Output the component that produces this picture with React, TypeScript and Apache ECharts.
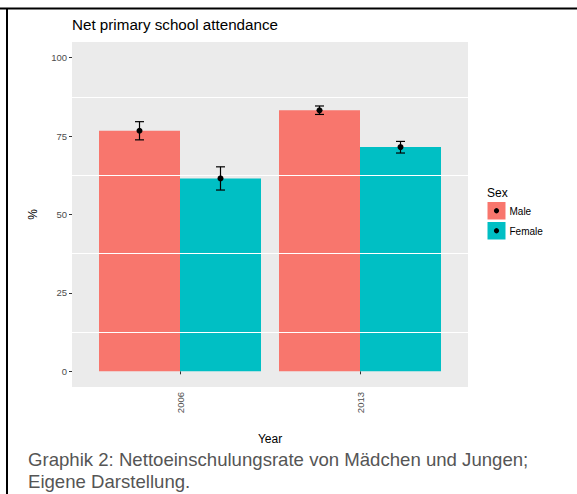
import React, { useEffect, useRef } from "react";
import * as echarts from "echarts";

// Net primary school attendance by year and sex (percent), with interval bounds
const YEARS = ["2006", "2013"];
const SEX = ["Male", "Female"];
const SEX_COLORS = ["#F8766D", "#00BFC4"];
const MALE = [76.7, 83.2];
const FEMALE = [61.5, 71.5];
const MALE_LOW = [73.8, 81.9];
const MALE_HIGH = [79.6, 84.6];
const FEMALE_LOW = [57.8, 69.6];
const FEMALE_HIGH = [65.2, 73.3];
const Y_TICKS = [0, 25, 50, 75, 100];
const Y_MINOR = [12.5, 37.5, 62.5, 87.5];
const TITLE = "Net primary school attendance";
const CAPTION = [
  "Graphik 2: Nettoeinschulungsrate von Mädchen und Jungen;",
  "Eigene Darstellung.",
];

const FONT = '"Liberation Sans", Arial, Helvetica, sans-serif';
const DODGE = 0.225;

export default function App() {
  const ref = useRef<HTMLDivElement>(null);

  useEffect(() => {
    document.body.style.margin = "0";
    if (!ref.current) return;
    const chart = echarts.init(ref.current, undefined, { renderer: "svg" });

    const xPos = YEARS.map((_, i) => i + 1);
    const barData = (vals: number[]) => vals.map((v, i) => [xPos[i], v]);

    const errData: number[][] = [];
    const groups = [
      { mean: MALE, low: MALE_LOW, high: MALE_HIGH, off: -DODGE },
      { mean: FEMALE, low: FEMALE_LOW, high: FEMALE_HIGH, off: DODGE },
    ];
    groups.forEach((g) => {
      g.mean.forEach((m, i) => {
        errData.push([xPos[i] + g.off, m, g.low[i], g.high[i]]);
      });
    });

    const legendItems: any[] = [
      {
        type: "text",
        x: 487,
        y: 193,
        style: {
          text: "Sex",
          fontSize: 12,
          fontFamily: FONT,
          fill: "#000",
          verticalAlign: "middle",
        },
      },
    ];
    SEX.forEach((name, k) => {
      const top = 202 + k * 20;
      legendItems.push(
        {
          type: "rect",
          shape: { x: 487.5, y: top, width: 18, height: 17.5 },
          style: { fill: SEX_COLORS[k] },
        },
        {
          type: "circle",
          shape: { cx: 496.5, cy: top + 8.75, r: 2.6 },
          style: { fill: "#000" },
        },
        {
          type: "text",
          x: 509.5,
          y: top + 9,
          style: {
            text: name,
            fontSize: 10,
            fontFamily: FONT,
            fill: "#000",
            verticalAlign: "middle",
          },
        }
      );
    });

    const option: any = {
      animation: false,
      backgroundColor: "#fff",
      textStyle: { fontFamily: FONT },
      title: {
        text: TITLE,
        left: 72,
        top: 17,
        padding: 0,
        textStyle: {
          fontSize: 15.2,
          fontWeight: "normal",
          color: "#000",
          fontFamily: FONT,
        },
      },
      grid: {
        left: 72,
        top: 42,
        width: 396,
        height: 345,
        show: true,
        backgroundColor: "#EBEBEB",
        borderWidth: 0,
      },
      xAxis: {
        type: "value",
        min: 0.4,
        max: 2.6,
        name: "Year",
        nameLocation: "middle",
        nameGap: 46,
        nameTextStyle: { fontSize: 12, color: "#000", fontFamily: FONT },
        axisLine: { show: false },
        splitLine: { show: false },
        axisTick: {
          show: true,
          length: 3,
          customValues: xPos,
          lineStyle: { color: "#333", width: 1 },
        },
        axisLabel: {
          customValues: xPos,
          rotate: 90,
          margin: 5,
          fontSize: 9.5,
          color: "#4D4D4D",
          fontFamily: FONT,
          formatter: (v: number) => YEARS[Math.round(v) - 1] ?? "",
        },
      },
      yAxis: {
        type: "value",
        min: -5,
        max: 105,
        name: "%",
        nameLocation: "middle",
        nameRotate: 90,
        nameGap: 33,
        nameTextStyle: { fontSize: 12, color: "#000", fontFamily: FONT },
        axisLine: { show: false },
        splitLine: { show: false },
        axisTick: {
          show: true,
          length: 3,
          customValues: Y_TICKS,
          lineStyle: { color: "#333", width: 1 },
        },
        axisLabel: {
          customValues: Y_TICKS,
          margin: 5,
          fontSize: 9.5,
          color: "#4D4D4D",
          fontFamily: FONT,
        },
      },
      graphic: [
        // frame lines along the top and left edge
        {
          type: "line",
          shape: { x1: 0, y1: 8.5, x2: 577, y2: 8.5 },
          style: { stroke: "#000", lineWidth: 2 },
        },
        {
          type: "line",
          shape: { x1: 7, y1: 8, x2: 7, y2: 494 },
          style: { stroke: "#000", lineWidth: 2 },
        },
        ...legendItems,
        {
          type: "text",
          x: 28,
          y: 459,
          style: {
            text: CAPTION[0],
            fontSize: 18.6,
            fontFamily: FONT,
            fill: "#555",
            verticalAlign: "middle",
          },
        },
        {
          type: "text",
          x: 28,
          y: 481,
          style: {
            text: CAPTION[1],
            fontSize: 18.6,
            fontFamily: FONT,
            fill: "#555",
            verticalAlign: "middle",
          },
        },
      ],
      series: [
        {
          // panel grid lines
          type: "line",
          data: [],
          z: 1,
          silent: true,
          markLine: {
            silent: true,
            symbol: "none",
            label: { show: false },
            lineStyle: { color: "#fff", width: 1, type: "solid" },
            data: Y_MINOR.map((v) => ({ yAxis: v })),
          },
        },
        {
          name: SEX[0],
          type: "bar",
          data: barData(MALE),
          barWidth: 81,
          barGap: "0%",
          itemStyle: { color: SEX_COLORS[0] },
          z: 2,
        },
        {
          name: SEX[1],
          type: "bar",
          data: barData(FEMALE),
          barWidth: 81,
          barGap: "0%",
          itemStyle: { color: SEX_COLORS[1] },
          z: 2,
        },
        {
          type: "custom",
          z: 5,
          data: errData,
          encode: { x: 0, y: [1, 2, 3] },
          renderItem: (params: any, api: any) => {
            const x = api.value(0);
            const pM = api.coord([x, api.value(1)]);
            const pL = api.coord([x, api.value(2)]);
            const pH = api.coord([x, api.value(3)]);
            const hw = api.size([0.05, 0])[0] / 2;
            const style = { stroke: "#000", lineWidth: 1.2 };
            return {
              type: "group",
              children: [
                {
                  type: "line",
                  shape: { x1: pL[0], y1: pL[1], x2: pH[0], y2: pH[1] },
                  style,
                },
                {
                  type: "line",
                  shape: { x1: pH[0] - hw, y1: pH[1], x2: pH[0] + hw, y2: pH[1] },
                  style,
                },
                {
                  type: "line",
                  shape: { x1: pL[0] - hw, y1: pL[1], x2: pL[0] + hw, y2: pL[1] },
                  style,
                },
                {
                  type: "circle",
                  shape: { cx: pM[0], cy: pM[1], r: 3 },
                  style: { fill: "#000" },
                },
              ],
            };
          },
        },
      ],
    };

    chart.setOption(option);
    return () => chart.dispose();
  }, []);

  return <div ref={ref} style={{ width: 577, height: 494 }} />;
}
